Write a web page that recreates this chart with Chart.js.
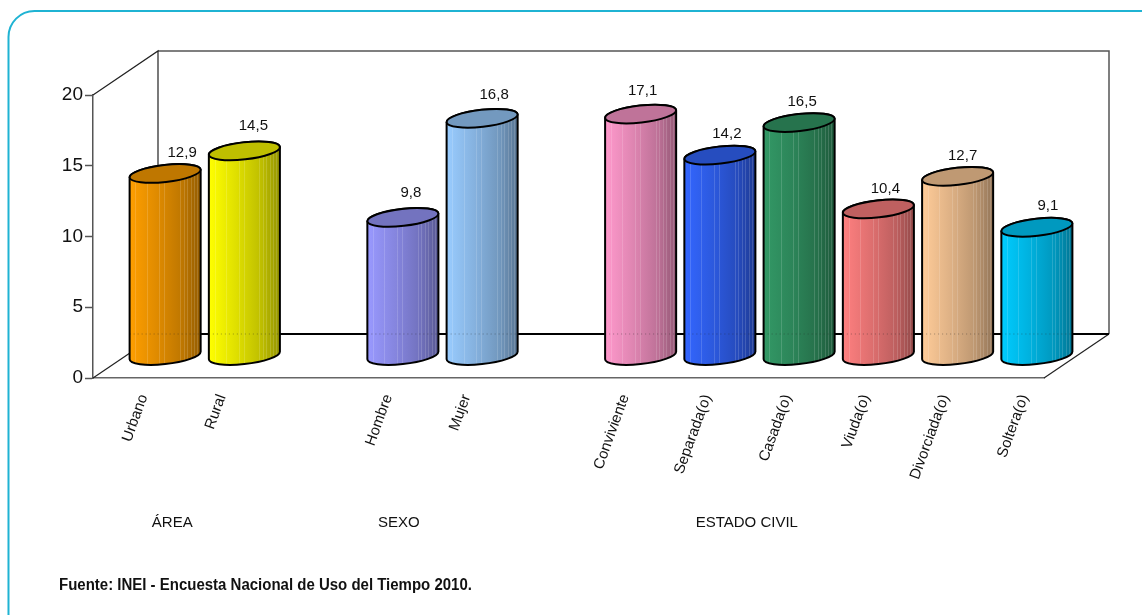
<!DOCTYPE html>
<html>
<head>
<meta charset="utf-8">
<title>Encuesta Nacional de Uso del Tiempo 2010</title>
<script src="https://cdn.jsdelivr.net/npm/chart.js@4/dist/chart.umd.js"></script>
<style>
  html, body { margin: 0; background: #fff; }
  canvas { display: block; }
</style>
</head>
<body>
<canvas id="cylChart" width="1142" height="615"></canvas>
<script>
// blank slots separate the three groups
const categories = ['Urbano', 'Rural', '', 'Hombre', 'Mujer', '', 'Conviviente', 'Separada(o)', 'Casada(o)', 'Viuda(o)', 'Divorciada(o)', 'Soltera(o)'];
const values = [12.9, 14.5, null, 9.8, 16.8, null, 17.1, 14.2, 16.5, 10.4, 12.7, 9.1];
const barColors = ['#ff9f00', '#ffff00', '#ffffff', '#9999ff', '#99ccff', '#ffffff', '#ff99cc', '#3366ff', '#339966', '#ff8080', '#ffcc99', '#00ccff'];
const yTicks = [0, 5, 10, 15, 20];
const groupNames = ['ÁREA', 'SEXO', 'ESTADO CIVIL'];
const groupCentres = [0.5, 3.36, 7.75];
const source = 'Fuente: INEI - Encuesta Nacional de Uso del Tiempo 2010.';

// look of the fake 3D box
const DEPTH_X = 65, DEPTH_Y = 44;
const TILT = -6.5 * Math.PI / 180, CAP_RY = 8.5;
const stripes = [0.08, 0.24, 0.42, 0.49, 0.71, 0.76, 0.81, 0.86, 0.91, 0.95];
// labels do not sit evenly in the original
const labelShiftX = [17, 9, 0, 8, 12, 0, 2, 7, 3, 7, 5, 11];
const labelShiftY = [-21, -25, 0, -24, -23, 0, -23, -21, -21, -20, -20, -21];
const tickShiftX = [-7, -8, 0, 0, -1, 0, -1, 2, 3, 2, 2, 2];

function shade(hex, f) {
  const n = parseInt(hex.slice(1), 16);
  const r = Math.round((n >> 16) * f), g = Math.round(((n >> 8) & 255) * f), b = Math.round((n & 255) * f);
  return 'rgb(' + r + ',' + g + ',' + b + ')';
}

function cylinder(ctx, el, color) {
  const cx = el.x + DEPTH_X / 2, top = el.y - DEPTH_Y / 2, bot = el.base - DEPTH_Y / 2;
  const halfW = el.width / 2;
  const rx = halfW / Math.cos(TILT);
  const tR = Math.atan(-(CAP_RY / rx) * Math.tan(TILT));

  const body = new Path2D();
  body.ellipse(cx, bot, rx, CAP_RY, TILT, tR, tR + Math.PI, false);
  body.ellipse(cx, top, rx, CAP_RY, TILT, tR + Math.PI, tR + 2 * Math.PI, false);
  body.closePath();

  ctx.save();
  const g = ctx.createLinearGradient(cx - halfW, 0, cx + halfW, 0);
  g.addColorStop(0, shade(color, 1));
  g.addColorStop(0.4, shade(color, 0.87));
  g.addColorStop(0.75, shade(color, 0.74));
  g.addColorStop(1, shade(color, 0.58));
  ctx.fillStyle = g;
  ctx.fill(body);

  // thin pale slivers down the body
  ctx.save();
  ctx.clip(body);
  ctx.strokeStyle = 'rgba(255,255,255,0.15)';
  ctx.lineWidth = 1;
  stripes.forEach(s => {
    const sx = Math.round(cx - halfW + s * el.width) + 0.5;
    ctx.beginPath();
    ctx.moveTo(sx, top - 20);
    ctx.lineTo(sx, bot + 20);
    ctx.stroke();
  });
  // back floor line shows through as dots
  ctx.strokeStyle = 'rgba(40,40,40,0.4)';
  ctx.setLineDash([1, 3]);
  ctx.beginPath();
  ctx.moveTo(cx - halfW, el.base - DEPTH_Y + 0.5);
  ctx.lineTo(cx + halfW, el.base - DEPTH_Y + 0.5);
  ctx.stroke();
  ctx.restore();

  ctx.strokeStyle = '#000';
  ctx.lineWidth = 2;
  ctx.stroke(body);

  ctx.beginPath();
  ctx.ellipse(cx, top, rx, CAP_RY, TILT, 0, 2 * Math.PI);
  ctx.fillStyle = shade(color, 0.75);
  ctx.fill();
  ctx.stroke();
  ctx.restore();
}

function line(ctx, color, width, pts) {
  ctx.strokeStyle = color;
  ctx.lineWidth = width;
  ctx.beginPath();
  pts.forEach((p, i) => i ? ctx.lineTo(p[0], p[1]) : ctx.moveTo(p[0], p[1]));
  ctx.stroke();
}

const boxPlugin = {
  id: 'box',
  // nudge the rotated tick labels, the scale caches these items for its draw
  beforeDraw(chart) {
    chart.scales.x.getLabelItems().forEach((item, i) => {
      item.options.translation[0] += tickShiftX[i];
    });
  },
  beforeDatasetsDraw(chart) {
    const ctx = chart.ctx, a = chart.chartArea;
    const bl = a.left + DEPTH_X, br = a.right + DEPTH_X;
    const by = a.bottom - DEPTH_Y, ty = a.top - DEPTH_Y;
    ctx.save();

    // rounded frame, runs off the page right and bottom
    ctx.strokeStyle = '#1fb3d3';
    ctx.lineWidth = 2;
    ctx.beginPath();
    ctx.roundRect(8.5, 11, 1160, 640, 26);
    ctx.stroke();

    line(ctx, '#555', 1.5, [[bl, ty], [br, ty], [br, by]]);
    line(ctx, '#222', 1.2, [[a.left, a.top], [bl, ty], [bl, by]]);
    line(ctx, '#222', 1.2, [[a.left, a.bottom], [bl, by]]);
    line(ctx, '#222', 1.2, [[a.right, a.bottom], [br, by]]);
    line(ctx, '#000', 2, [[bl, by], [br, by]]);
    ctx.restore();
  },
  // the library's flat bars are replaced by cylinders on the same elements
  beforeDatasetDraw(chart, args) {
    const ctx = chart.ctx;
    args.meta.data.forEach((el, i) => {
      if (values[i] === null) return;
      cylinder(ctx, el, barColors[i]);
    });
    return false;
  },
  afterDatasetsDraw(chart) {
    const ctx = chart.ctx, a = chart.chartArea, x = chart.scales.x;
    ctx.save();
    ctx.fillStyle = '#111';
    ctx.textAlign = 'center';
    ctx.textBaseline = 'middle';
    ctx.font = '15px "Liberation Sans"';
    chart.getDatasetMeta(0).data.forEach((el, i) => {
      if (values[i] === null) return;
      const txt = values[i].toFixed(1).replace('.', ',');
      ctx.fillText(txt, el.x + DEPTH_X / 2 + labelShiftX[i], el.y - DEPTH_Y / 2 + labelShiftY[i]);
    });
    groupNames.forEach((g, i) => {
      ctx.fillText(g, x.getPixelForValue(groupCentres[i]), a.bottom + 145);
    });
    // source line is squeezed a bit in the original
    ctx.textAlign = 'left';
    ctx.font = 'bold 16px "Liberation Sans"';
    ctx.translate(59, a.bottom + 208);
    ctx.scale(0.937, 1);
    ctx.fillText(source, 0, 0);
    ctx.restore();
  }
};

new Chart(document.getElementById('cylChart'), {
  type: 'bar',
  plugins: [boxPlugin],
  data: {
    labels: categories,
    datasets: [{
      data: values,
      backgroundColor: barColors,
      barPercentage: 0.896,
      categoryPercentage: 1
    }]
  },
  options: {
    responsive: false,
    animation: false,
    layout: { padding: { top: 95, right: 98, left: 0, bottom: 0 } },
    plugins: { legend: { display: false }, tooltip: { enabled: false } },
    scales: {
      x: {
        afterFit(s) { s.height = 237; },
        grid: { display: false, drawTicks: false },
        border: { display: true, color: '#666', width: 1.5 },
        ticks: {
          autoSkip: false,
          minRotation: 70,
          maxRotation: 70,
          labelOffset: 18,
          padding: 14,
          color: '#111',
          font: { family: '"Liberation Sans"', size: 15 }
        }
      },
      y: {
        min: 0,
        max: 20,
        afterFit(s) { s.width = 93; },
        afterBuildTicks(s) { s.ticks = yTicks.map(v => ({ value: v })); },
        grid: { drawOnChartArea: false, tickLength: 8, color: '#555', tickWidth: 1.5 },
        border: { display: true, color: '#555', width: 1.5 },
        ticks: {
          padding: 2,
          color: '#111',
          font: { family: '"Liberation Sans"', size: 19 }
        }
      }
    }
  }
});
</script>
</body>
</html>
